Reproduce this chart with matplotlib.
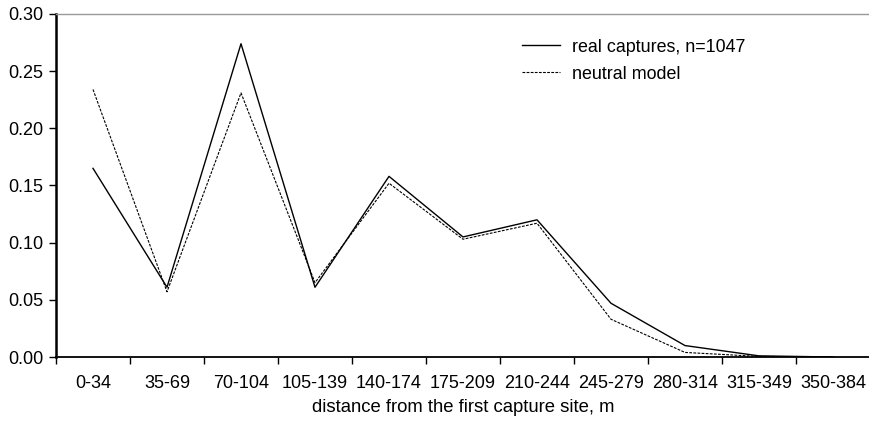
import matplotlib
matplotlib.use("Agg")
import matplotlib.pyplot as plt
import numpy as np

plt.rcParams["font.family"] = ["Liberation Sans", "DejaVu Sans"]

categories = ["0-34", "35-69", "70-104", "105-139", "140-174", "175-209",
              "210-244", "245-279", "280-314", "315-349", "350-384"]
real_captures = [0.165, 0.061, 0.274, 0.061, 0.158, 0.105, 0.120, 0.047, 0.010, 0.001, 0.000]
neutral_model = [0.234, 0.057, 0.231, 0.065, 0.152, 0.103, 0.117, 0.033, 0.004, 0.0005, 0.000]
y_ticks = [0.00, 0.05, 0.10, 0.15, 0.20, 0.25, 0.30]

fig = plt.figure(figsize=(8.7, 4.22), dpi=100)
ax = fig.add_axes([56 / 870, 1 - 357 / 422, 1 - 56 / 870, (357 - 14) / 422])

x = np.arange(len(categories))
ax.plot(x, real_captures, color="black", lw=1.0, label="real captures, n=1047")
ax.plot(x, neutral_model, color="black", lw=0.8, ls=(0, (2.5, 1.2)), label="neutral model")

ax.set_xlim(-0.5, len(categories) - 0.5)
ax.set_ylim(0, 0.30)
ax.set_yticks(y_ticks)
ax.set_yticklabels([f"{v:.2f}" for v in y_ticks])
ax.set_xticks(x)
ax.set_xticklabels(categories)
ax.set_xticks(np.arange(len(categories) + 1) - 0.5, minor=True)
ax.tick_params(axis="x", which="major", length=0, pad=13, labelsize=13)
ax.tick_params(axis="x", which="minor", length=5, width=1, direction="out")
ax.tick_params(axis="y", length=5, width=1, direction="out", labelsize=13, pad=4)

ax.spines["left"].set_linewidth(1.8)
ax.spines["bottom"].set_linewidth(1.3)
ax.spines["top"].set_color("#999999")
ax.spines["top"].set_linewidth(1.0)
ax.spines["right"].set_visible(False)

ax.set_xlabel("distance from the first capture site, m", fontsize=13.3, labelpad=5)

ax.legend(loc="upper left", bbox_to_anchor=(0.553, 0.975), frameon=False,
          fontsize=12.9, handlelength=2.1, handletextpad=0.65, labelspacing=0.55)

fig.savefig("out.png", dpi=100)
